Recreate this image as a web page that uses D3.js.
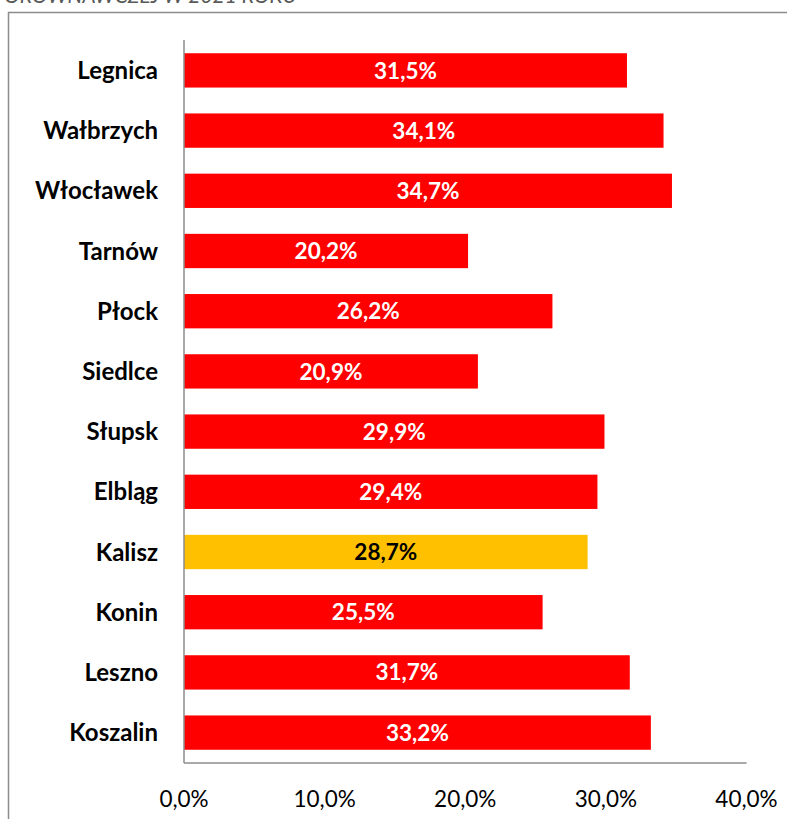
<!DOCTYPE html>
<html>
<head>
<meta charset="utf-8">
<script src="https://cdn.jsdelivr.net/npm/d3@7"></script>
<style>
  body { margin: 0; background: #fff; }
  svg { display: block; font-family: Lato, "Open Sans", sans-serif; }
</style>
</head>
<body>
<div id="chart"></div>
<script>
// Cities in chart order, top to bottom
const cities = ["Legnica", "Wałbrzych", "Włocławek", "Tarnów", "Płock", "Siedlce", "Słupsk", "Elbląg", "Kalisz", "Konin", "Leszno", "Koszalin"];
const values = [31.5, 34.1, 34.7, 20.2, 26.2, 20.9, 29.9, 29.4, 28.7, 25.5, 31.7, 33.2];
const highlight = "Kalisz";
const ticks = [0, 10, 20, 30, 40];

const width = 787, height = 819;
const svg = d3.select("#chart").append("svg").attr("width", width).attr("height", height);

// cut-off title above the frame
svg.append("text")
  .attr("x", 297).attr("y", 3)
  .attr("text-anchor", "end")
  .attr("font-style", "italic")
  .attr("font-size", 21)
  .attr("fill", "#595959")
  .text("W GRUPIE PORÓWNAWCZEJ W 2021 ROKU");

// chart frame (only left and top edges are visible)
svg.append("path")
  .attr("d", `M8.5,${height} V12.5 H${width}`)
  .attr("fill", "none")
  .attr("stroke", "#8c8c8c")
  .attr("stroke-width", 1.5);

const x = d3.scaleLinear().domain([0, 40]).range([184, 746.5]);
const y = d3.scaleBand().domain(cities).range([40, 763]).paddingInner(0.43).paddingOuter(0.22);

const fmt = (v) => d3.format(".1f")(v).replace(".", ",") + "%";

// bars
svg.append("g").selectAll("rect")
  .data(cities)
  .join("rect")
  .attr("x", x(0))
  .attr("y", (d) => y(d))
  .attr("width", (d, i) => x(values[i]) - x(0))
  .attr("height", y.bandwidth())
  .attr("fill", (d) => d === highlight ? "#ffc000" : "#ff0000");

// value labels
svg.append("g").selectAll("text")
  .data(cities)
  .join("text")
  .attr("x", (d, i) => (x(0) + x(values[i])) / 2)
  .attr("y", (d) => y(d) + y.bandwidth() / 2)
  .attr("dy", "0.36em")
  .attr("text-anchor", "middle")
  .attr("font-weight", "bold")
  .attr("font-size", 22.5)
  .attr("fill", (d) => d === highlight ? "#000" : "#fff")
  .text((d, i) => fmt(values[i]));

// category labels
svg.append("g").selectAll("text")
  .data(cities)
  .join("text")
  .attr("x", 158)
  .attr("y", (d) => y(d) + y.bandwidth() / 2)
  .attr("dy", "0.36em")
  .attr("text-anchor", "end")
  .attr("font-weight", "bold")
  .attr("font-size", 24)
  .attr("fill", "#000")
  .text((d) => d);

// axes lines
svg.append("line")
  .attr("x1", x(0)).attr("x2", x(0))
  .attr("y1", 40).attr("y2", 763)
  .attr("stroke", "#8c8c8c").attr("stroke-width", 1.5);
svg.append("line")
  .attr("x1", x(0)).attr("x2", x(40))
  .attr("y1", 763).attr("y2", 763)
  .attr("stroke", "#8c8c8c").attr("stroke-width", 1.5);

// x tick labels
svg.append("g").selectAll("text")
  .data(ticks)
  .join("text")
  .attr("x", (d) => x(d))
  .attr("y", 807)
  .attr("text-anchor", "middle")
  .attr("font-size", 22.5)
  .attr("fill", "#000")
  .text((d) => fmt(d));
</script>
</body>
</html>
